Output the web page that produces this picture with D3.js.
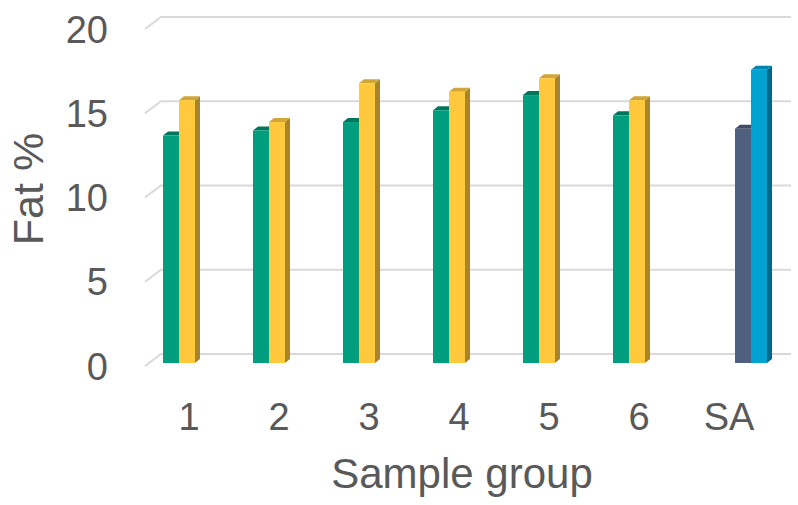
<!DOCTYPE html>
<html>
<head>
<meta charset="utf-8">
<script src="https://cdn.jsdelivr.net/npm/d3@7"></script>
<style>
  html, body { margin: 0; padding: 0; background: #fff; }
  svg { display: block; font-family: "Liberation Sans", Arial, sans-serif; }
</style>
</head>
<body>
<svg id="chart" width="798" height="505"></svg>
<script>
// ---- data ----
const categories = ["1", "2", "3", "4", "5", "6", "SA"];
const seriesNames = ["s1", "s2", "s3", "s4"];
const series1 = [13.5, 13.8, 14.3, 15.0, 15.9, 14.7, null];
const series2 = [15.6, 14.3, 16.6, 16.1, 16.9, 15.6, null];
const series3 = [null, null, null, null, null, null, 13.9];
const series4 = [null, null, null, null, null, null, 17.4];
const yTicks = [0, 5, 10, 15, 20];
const yTitle = "Fat %";
const xTitle = "Sample group";

const allSeries = [series1, series2, series3, series4];
const colors = [
  { front: "#009E7F", side: "#007A60", top: "#00765C" },
  { front: "#FFC83D", side: "#A8842C", top: "#D0A636" },
  { front: "#4F5F7E", side: "#3C4962", top: "#3E4B66" },
  { front: "#00A2D2", side: "#00688A", top: "#0085AE" }
];

// ---- layout ----
const svg = d3.select("#chart");
const frontLeft = 145, frontRight = 775;
const frontBase = 366, frontTop = 29;
const depthDx = 16, depthDy = -12;
const barShiftX = 5, barShiftY = -3;
const barDx = 5, barDy = -4;
const textColor = "#595959";

const x = d3.scaleBand().domain(categories).range([frontLeft, frontRight]).paddingInner(0).paddingOuter(0);
const y = d3.scaleLinear().domain([0, 20]).range([frontBase, frontTop]);
const clusterW = 64;
const inner = d3.scaleBand().domain(seriesNames).range([0, clusterW]);

const grid = svg.append("g");
yTicks.forEach(t => {
  const yy = y(t);
  grid.append("polyline")
    .attr("points", [
      [frontLeft, yy],
      [frontLeft + depthDx, yy + depthDy],
      [frontRight + depthDx, yy + depthDy]
    ].map(p => p.join(",")).join(" "))
    .attr("fill", "none")
    .attr("stroke", "#D9D9D9")
    .attr("stroke-width", 2);
});

svg.append("g").selectAll("text").data(yTicks).join("text")
  .attr("x", 108)
  .attr("y", d => y(d))
  .attr("dy", "0.36em")
  .attr("text-anchor", "end")
  .attr("font-size", 38)
  .attr("fill", textColor)
  .text(d => d);

const barsG = svg.append("g");
categories.forEach((c, ci) => {
  seriesNames.forEach((s, si) => {
    const v = allSeries[si][ci];
    if (v == null) return;
    const col = colors[si];
    const x0 = x(c) + x.bandwidth() / 2 - clusterW / 2 + inner(s) + barShiftX;
    const w = inner.bandwidth();
    const x1 = x0 + w;
    const yb = y(0) + barShiftY;
    const yt = y(v) + barShiftY;
    barsG.append("polygon")
      .attr("points", [[x1, yb], [x1 + barDx, yb + barDy], [x1 + barDx, yt + barDy], [x1, yt]].map(p => p.join(",")).join(" "))
      .attr("fill", col.side);
    barsG.append("polygon")
      .attr("points", [[x0, yt], [x0 + barDx, yt + barDy], [x1 + barDx, yt + barDy], [x1, yt]].map(p => p.join(",")).join(" "))
      .attr("fill", col.top);
    barsG.append("rect")
      .attr("x", x0).attr("y", yt)
      .attr("width", w).attr("height", yb - yt)
      .attr("fill", col.front);
  });
});

svg.append("g").selectAll("text").data(categories).join("text")
  .attr("x", d => x(d) + x.bandwidth() / 2 - 1)
  .attr("y", 430)
  .attr("text-anchor", "middle")
  .attr("font-size", 38)
  .attr("fill", textColor)
  .text(d => d);

svg.append("text")
  .attr("x", 462).attr("y", 488)
  .attr("text-anchor", "middle")
  .attr("font-size", 42)
  .attr("fill", textColor)
  .text(xTitle);

svg.append("text")
  .attr("transform", "translate(43,189) rotate(-90)")
  .attr("text-anchor", "middle")
  .attr("font-size", 43)
  .attr("fill", textColor)
  .text(yTitle);
</script>
</body>
</html>
